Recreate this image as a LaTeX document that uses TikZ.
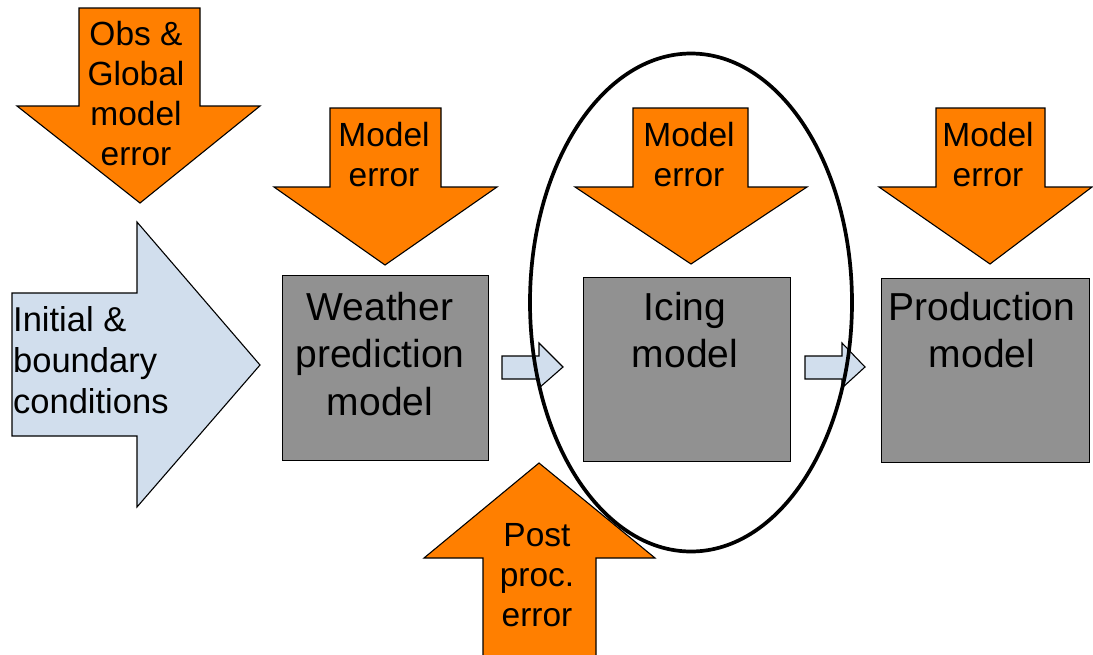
\documentclass[tikz,border=0pt]{standalone}
\usepackage{fontspec}
\setmainfont{Liberation Sans}
\definecolor{orgc}{RGB}{255,127,0}
\definecolor{bluec}{RGB}{209,222,237}
\definecolor{grayc}{RGB}{145,145,145}
\tikzset{
  orangearrow/.style={fill=orgc, draw=black, line width=1.1pt, line join=miter},
  bluearrow/.style={fill=bluec, draw=black, line width=1.1pt, line join=miter},
  modelbox/.style={rectangle, fill=grayc, draw=black, line width=1.4pt, inner sep=0pt, anchor=north west},
  errtext/.style={font=\fontsize{33.5}{40}\selectfont, align=center, inner sep=0pt, anchor=north},
  boxtext/.style={font=\fontsize{39}{47.5}\selectfont, align=center, inner sep=0pt, anchor=north},
  inittext/.style={font=\fontsize{34.5}{41}\selectfont, align=left, inner sep=0pt, anchor=north west},
  loop/.style={draw=black, line width=3.7pt}
}
\begin{document}
\begin{tikzpicture}[x=1pt, y=-1pt]
\useasboundingbox (0,0) rectangle (1093,654);
% input arrow (initial & boundary conditions)
\draw[bluearrow] (12,293) -- (137,293) -- (137,222) -- (260,365) -- (137,507) -- (137,436) -- (12,436) -- cycle;
\node[inittext] (init) at (13,306) {Initial \&\\boundary\\conditions};
% obs & global model error arrow
\draw[orangearrow] (79,8) -- (200,8) -- (200,106) -- (260,106) -- (140,203) -- (17,106) -- (79,106) -- cycle;
\node[errtext] (obs) at (136,21) {Obs \&\\Global\\model\\error};
% model boxes
\node[modelbox, minimum width=206pt, minimum height=185pt] (wp) at (282,275) {};
\node[modelbox, minimum width=207pt, minimum height=184pt] (ice) at (583,277) {};
\node[modelbox, minimum width=208pt, minimum height=184pt] (prod) at (881,278) {};
\node[boxtext] (wptext) at (380,292) {Weather\\prediction\\model};
\node[boxtext] (icetext) at (685,292) {Icing\\model};
\node[boxtext] (prodtext) at (982,292) {Production\\model};
% model error arrows
\draw[orangearrow] (330,108) -- (441,108) -- (441,187) -- (497,187) -- (385,265) -- (274,187) -- (330,187) -- cycle;
\node[errtext] (wperr) at (384,122) {Model\\error};
\draw[orangearrow] (633,108) -- (748,108) -- (748,187) -- (807,187) -- (691,264) -- (575,187) -- (633,187) -- cycle;
\node[errtext] (iceerr) at (689,122) {Model\\error};
\draw[orangearrow] (936,108) -- (1045,108) -- (1045,187) -- (1092,187) -- (990,264) -- (879,187) -- (936,187) -- cycle;
\node[errtext] (proderr) at (988,122) {Model\\error};
% small connector arrows between boxes
\draw[bluearrow] (502,356) -- (539,356) -- (539,343) -- (563,367) -- (539,388) -- (539,379) -- (502,379) -- cycle;
\draw[bluearrow] (805,356) -- (842,356) -- (842,343) -- (865,367) -- (842,388) -- (842,379) -- (805,379) -- cycle;
% post processing error arrow
\draw[orangearrow] (539,463) -- (655,558) -- (596,558) -- (596,665) -- (483,665) -- (483,558) -- (424,558) -- cycle;
\node[errtext] (posterr) at (537,523) {Post\\proc.\\error};
% ellipse around icing model
\draw[loop] (691,302.5) ellipse [x radius=161, y radius=249];
\end{tikzpicture}
\end{document}
